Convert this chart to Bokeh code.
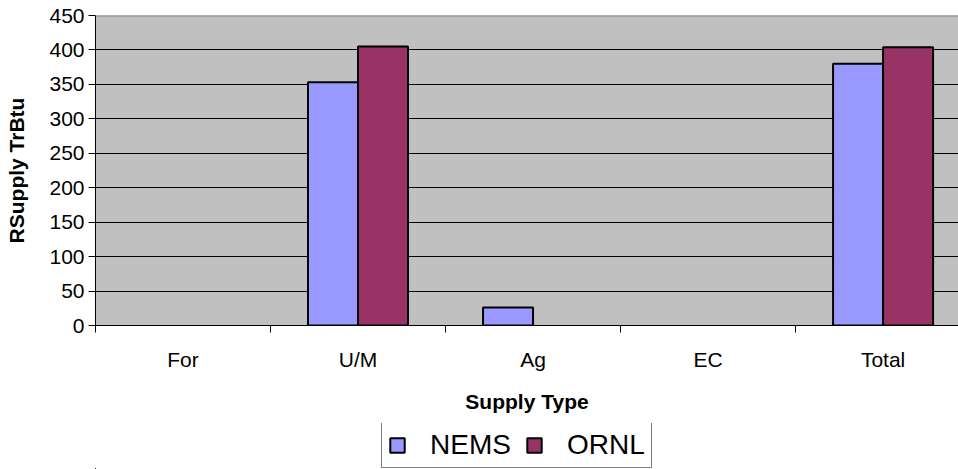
from bokeh.plotting import figure
from bokeh.layouts import column
from bokeh.models import (ColumnDataSource, Range1d, FixedTicker, Legend, LegendItem,
                          Span, CDSView, BooleanFilter)
from bokeh.embed import file_html
from bokeh.resources import INLINE

# ---- data ----
categories = ["For", "U/M", "Ag", "EC", "Total"]
nems = [0, 353, 26, 0, 380]
ornl = [0, 405, 0, 0, 404]
y_ticks = [0, 50, 100, 150, 200, 250, 300, 350, 400, 450]
series_names = ["NEMS", "ORNL"]
series_colors = ["#9999FF", "#993366"]

FONT = "Liberation Sans"
n = len(categories)
bar_w = 0.2857
y_max = y_ticks[-1]

p = figure(width=958, height=423, output_backend="svg", toolbar_location=None,
           x_range=Range1d(0, 4.931), y_range=Range1d(0, y_max),
           min_border_left=95, min_border_right=0, min_border_top=15, min_border_bottom=98)
p.background_fill_color = "#C0C0C0"
p.border_fill_color = "white"
p.outline_line_color = None

# legend strip below the chart (its own figure, ranges placed away from the bars)
lg = figure(width=958, height=46, output_backend="svg", toolbar_location=None,
            x_range=Range1d(100, 101), y_range=Range1d(1000, 1001),
            x_axis_location=None, y_axis_location=None, min_border=0)
lg.outline_line_color = None
lg.background_fill_color = "white"
lg.border_fill_color = "white"
lg.xgrid.grid_line_color = None
lg.ygrid.grid_line_color = None

centers = [i + 0.5 for i in range(n)]
leg_renderers = []
for k, (vals, col) in enumerate(zip([nems, ornl], series_colors)):
    xs = [c + (k - 0.5) * bar_w for c in centers]
    src = ColumnDataSource(dict(x=xs, top=vals))
    view = CDSView(filter=BooleanFilter([v > 0 for v in vals]))
    p.vbar(x="x", top="top", bottom=0, width=bar_w, source=src, view=view,
           fill_color=col, line_color="black", line_width=2)
    leg_renderers.append(lg.vbar(x="x", top="top", bottom=0, width=bar_w, source=src,
                                 fill_color=col, line_color="black", line_width=2))

p.add_layout(Span(location=y_max, dimension="width", line_color="#808080", line_width=2))

# y axis
p.yaxis.ticker = FixedTicker(ticks=y_ticks)
p.yaxis.major_label_text_font = FONT
p.yaxis.major_label_text_font_size = "21px"
p.yaxis.major_label_text_color = "black"
p.yaxis.major_tick_out = 7
p.yaxis.major_tick_in = 0
p.yaxis.minor_tick_line_color = None
p.yaxis.major_label_standoff = 4
p.yaxis.axis_line_color = "black"
p.yaxis.major_tick_line_color = "black"
p.yaxis.axis_label = "RSupply TrBtu"
p.yaxis.axis_label_text_font = FONT
p.yaxis.axis_label_text_font_size = "21px"
p.yaxis.axis_label_text_font_style = "bold"
p.yaxis.axis_label_text_color = "black"
p.yaxis.axis_label_standoff = 18

# x axis
p.xaxis.ticker = FixedTicker(ticks=centers, minor_ticks=list(range(n + 1)))
p.xaxis.major_label_overrides = {c: lab for c, lab in zip(centers, categories)}
p.xaxis.major_label_text_font = FONT
p.xaxis.major_label_text_font_size = "21px"
p.xaxis.major_label_text_color = "black"
p.xaxis.major_tick_line_color = None
p.xaxis.major_tick_out = 0
p.xaxis.major_tick_in = 0
p.xaxis.minor_tick_line_color = "black"
p.xaxis.minor_tick_out = 7
p.xaxis.minor_tick_in = 0
p.xaxis.major_label_standoff = 15
p.xaxis.axis_line_color = "black"
p.xaxis.axis_label = "Supply Type"
p.xaxis.axis_label_text_font = FONT
p.xaxis.axis_label_text_font_size = "21px"
p.xaxis.axis_label_text_font_style = "bold"
p.xaxis.axis_label_text_color = "black"
p.xaxis.axis_label_standoff = 16

p.xgrid.grid_line_color = None
p.ygrid.ticker = FixedTicker(ticks=y_ticks[:-1])
p.ygrid.grid_line_color = "black"
p.ygrid.grid_line_width = 1

legend = Legend(items=[LegendItem(label=nm, renderers=[r], index=1)
                       for nm, r in zip(series_names, leg_renderers)],
                orientation="horizontal", location=(286, 1),
                label_text_font=FONT, label_text_font_size="28px", label_text_color="black",
                glyph_width=18, glyph_height=18, label_standoff=24, spacing=14,
                padding=6, margin=0, border_line_color="black", border_line_width=1,
                background_fill_color="white", background_fill_alpha=1)
lg.add_layout(legend, "center")

layout = column(p, lg, spacing=0)
open("out.html", "w").write(file_html(layout, INLINE))
